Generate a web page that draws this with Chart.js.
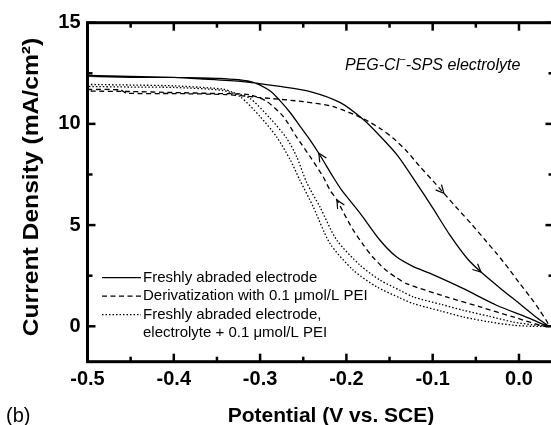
<!DOCTYPE html>
<html><head><meta charset="utf-8">
<script src="https://cdn.jsdelivr.net/npm/chart.js@4/dist/chart.umd.min.js"></script>
<style>html,body{margin:0;padding:0;background:#fff;overflow:hidden}</style>
</head><body>
<canvas id="c" width="554" height="425"></canvas>
<script>
// ---- data ----
const xTicks = [-0.5, -0.4, -0.3, -0.2, -0.1, 0.0];
const yTicks = [0, 5, 10, 15];
const xMinorTicks = [-0.45, -0.35, -0.25, -0.15, -0.05];
const yMinorTicks = [2.5, 7.5, 12.5];
const xTitle = 'Potential (V vs. SCE)';
const yTitle = 'Current Density (mA/cm²)';
const seriesNames = ['Freshly abraded electrode', 'Derivatization with 0.1 μmol/L PEI', 'Freshly abraded electrode,\nelectrolyte + 0.1 μmol/L PEI'];
const noteParts = ['PEG-Cl', '−', '-SPS electrolyte'];
const panelLabel = '(b)';

// Freshly abraded electrode (forward sweep, then return sweep)
const freshX = [-0.5,-0.45,-0.4,-0.37,-0.32,-0.277,-0.242,-0.207,-0.18,-0.16,-0.14,-0.12,-0.1,-0.08,-0.06,-0.044,-0.02,0.0,0.02,0.034,
  0.013,-0.026,-0.065,-0.103,-0.123,-0.142,-0.161,-0.184,-0.2055,-0.215,-0.232,-0.242,-0.254,-0.265,-0.277,-0.289,-0.312,-0.35,-0.4,-0.45,-0.5];
const freshY = [12.4,12.35,12.3,12.23,12.09,11.85,11.6,11.05,10.2,9.35,8.4,7.15,5.85,4.5,3.35,2.68,1.82,1.14,0.45,0.0,
  0.38,1.04,1.87,2.61,2.96,3.43,4.25,5.58,6.73,7.35,8.55,9.2,9.9,10.55,11.15,11.65,12.1,12.25,12.3,12.3,12.35];

// Derivatization with 0.1 umol/L PEI
const derivX = [-0.5,-0.462,-0.455,-0.4,-0.34,-0.3,-0.25,-0.215,-0.18,-0.16,-0.146,-0.13,-0.115,-0.1,-0.087,-0.07,-0.055,-0.04,-0.026,-0.012,0.001,0.013,0.024,0.034,
  -0.0066,-0.045,-0.084,-0.13,-0.142,-0.155,-0.169,-0.18,-0.192,-0.2,-0.211,-0.219,-0.227,-0.242,-0.258,-0.273,-0.292,-0.312,-0.35,-0.4,-0.45,-0.5];
const derivY = [11.7,11.68,11.52,11.5,11.45,11.3,11.1,10.85,10.25,9.75,9.3,8.65,7.9,7.2,6.57,5.75,5.05,4.3,3.6,2.85,2.11,1.45,0.79,0.0,
  0.46,0.96,1.45,2.1,2.4,2.8,3.4,4.0,4.75,5.35,6.24,6.73,7.39,8.38,9.37,10.36,11.1,11.44,11.5,11.55,11.6,11.62];

// Freshly abraded electrode, electrolyte + 0.1 umol/L PEI
const peiX = [-0.5,-0.45,-0.4,-0.343,-0.331,-0.312,-0.2885,-0.2692,-0.2576,-0.246,-0.2307,-0.2112,-0.1842,-0.161,-0.138,-0.1225,-0.09,-0.0645,-0.035,-0.0066,0.015,0.034,
  0.015,-0.0066,-0.035,-0.0645,-0.09,-0.1225,-0.1379,-0.1649,-0.192,-0.219,-0.2384,-0.254,-0.265,-0.281,-0.3,-0.3233,-0.343,-0.4,-0.45,-0.5];
const peiY = [11.95,11.92,11.88,11.72,11.55,11.27,10.28,9.29,8.38,7.1,5.9,4.26,3.02,2.28,1.78,1.45,1.08,0.79,0.5,0.21,0.08,0.0,
  0.0,0.05,0.22,0.46,0.75,1.12,1.4,1.95,2.77,4.09,5.9,7.23,8.22,9.37,10.36,11.35,11.65,11.8,11.82,11.85];

// sweep-direction arrows: series index + point index in that series
const arrowMarks = [{series:0,index:15},{series:0,index:30},{series:1,index:14},{series:1,index:34}];

const toPts = (xs, ys) => xs.map((v, i) => ({x: v, y: ys[i]}));
const FONT = "'Liberation Sans', Arial, Helvetica, sans-serif";

const decor = {
  id: 'decor',
  afterDatasetsDraw(chart) {
    const {ctx, chartArea: a, scales: {x, y}} = chart;
    ctx.save();
    ctx.strokeStyle = '#000'; ctx.fillStyle = '#000';
    // frame
    ctx.lineWidth = 3;
    ctx.strokeRect(a.left, a.top, a.right - a.left, a.bottom - a.top);
    // inward ticks on all four sides
    ctx.lineWidth = 2.5;
    const tk = (px, py, dx, dy) => { ctx.beginPath(); ctx.moveTo(px, py); ctx.lineTo(px + dx, py + dy); ctx.stroke(); };
    xTicks.forEach(v => { const p = x.getPixelForValue(v); tk(p, a.bottom, 0, -8); tk(p, a.top, 0, 8); });
    xMinorTicks.forEach(v => { const p = x.getPixelForValue(v); tk(p, a.bottom, 0, -5); tk(p, a.top, 0, 5); });
    yTicks.forEach(v => { const p = y.getPixelForValue(v); tk(a.left, p, 8, 0); tk(a.right, p, -8, 0); });
    yMinorTicks.forEach(v => { const p = y.getPixelForValue(v); tk(a.left, p, 5, 0); tk(a.right, p, -5, 0); });

    // arrows
    ctx.lineWidth = 1.2;
    arrowMarks.forEach(m => {
      const pts = chart.getDatasetMeta(m.series).data;
      const p = pts[m.index], p0 = pts[m.index - 1], p1 = pts[m.index + 1];
      const ang = Math.atan2(p1.y - p0.y, p1.x - p0.x);
      const L = 9, w = 0.45;
      ctx.beginPath();
      ctx.moveTo(p.x - L * Math.cos(ang - w), p.y - L * Math.sin(ang - w));
      ctx.lineTo(p.x, p.y);
      ctx.lineTo(p.x - L * Math.cos(ang + w), p.y - L * Math.sin(ang + w));
      ctx.stroke();
    });

    // axis titles
    ctx.font = 'bold 21px ' + FONT;
    ctx.textAlign = 'center'; ctx.textBaseline = 'middle';
    ctx.fillText(xTitle, 331, 416);
    ctx.save();
    ctx.translate(32, 187); ctx.rotate(-Math.PI / 2); ctx.scale(1.12, 1);
    ctx.font = 'bold 22px ' + FONT;
    ctx.fillText(yTitle, 0, 0);
    ctx.restore();

    // panel label
    ctx.font = '20px ' + FONT;
    ctx.textAlign = 'left';
    ctx.fillText(panelLabel, 6, 416);

    // annotation
    ctx.font = 'italic 16px ' + FONT;
    let nx = 345;
    ctx.fillText(noteParts[0], nx, 66); nx += ctx.measureText(noteParts[0]).width;
    ctx.font = 'italic 11px ' + FONT;
    ctx.fillText(noteParts[1], nx, 60); nx += ctx.measureText(noteParts[1]).width;
    ctx.font = 'italic 16px ' + FONT;
    ctx.fillText(noteParts[2], nx, 66);

    // legend
    ctx.font = '15px ' + FONT;
    let row = 277.7;
    chart.data.datasets.forEach((ds, i) => {
      ctx.save();
      ctx.lineWidth = ds.borderWidth; ctx.setLineDash(ds.borderDash || []);
      ctx.beginPath(); ctx.moveTo(102, row); ctx.lineTo(141, row); ctx.stroke();
      ctx.restore();
      seriesNames[i].split('\n').forEach(line => { ctx.fillText(line, 143, row); row += 18.5; });
    });
    ctx.restore();
  }
};

const tickFont = {family: FONT, weight: 'bold', size: 20};
new Chart(document.getElementById('c'), {
  type: 'scatter',
  data: {
    datasets: [
      {label: seriesNames[0], data: toPts(freshX, freshY), borderDash: [], borderWidth: 1.3},
      {label: seriesNames[1], data: toPts(derivX, derivY), borderDash: [5, 3.5], borderWidth: 1.3},
      {label: seriesNames[2], data: toPts(peiX, peiY), borderDash: [1.5, 2], borderWidth: 1.3}
    ].map(d => Object.assign(d, {showLine: true, pointRadius: 0, borderColor: '#000', backgroundColor: '#000', tension: 0.25, fill: false}))
  },
  options: {
    responsive: false, animation: false, devicePixelRatio: 1,
    layout: {padding: {top: 22.7, right: 0.5, left: 0, bottom: 0}},
    plugins: {legend: {display: false}, tooltip: {enabled: false}},
    scales: {
      x: {
        type: 'linear', min: -0.5, max: 0.04,
        afterBuildTicks: s => { s.ticks = xTicks.map(v => ({value: v})); },
        afterFit: s => { s.height = 63.3; },
        ticks: {callback: v => v.toFixed(1), font: tickFont, color: '#000', padding: 6, maxRotation: 0, autoSkip: false},
        grid: {display: false, drawTicks: false}, border: {display: false}
      },
      y: {
        type: 'linear', min: -1.75, max: 15,
        afterBuildTicks: s => { s.ticks = yTicks.map(v => ({value: v})); },
        afterFit: s => { s.width = 87.5; },
        ticks: {font: tickFont, color: '#000', padding: 7, autoSkip: false},
        grid: {display: false, drawTicks: false}, border: {display: false}
      }
    }
  },
  plugins: [decor]
});
</script>
</body></html>
